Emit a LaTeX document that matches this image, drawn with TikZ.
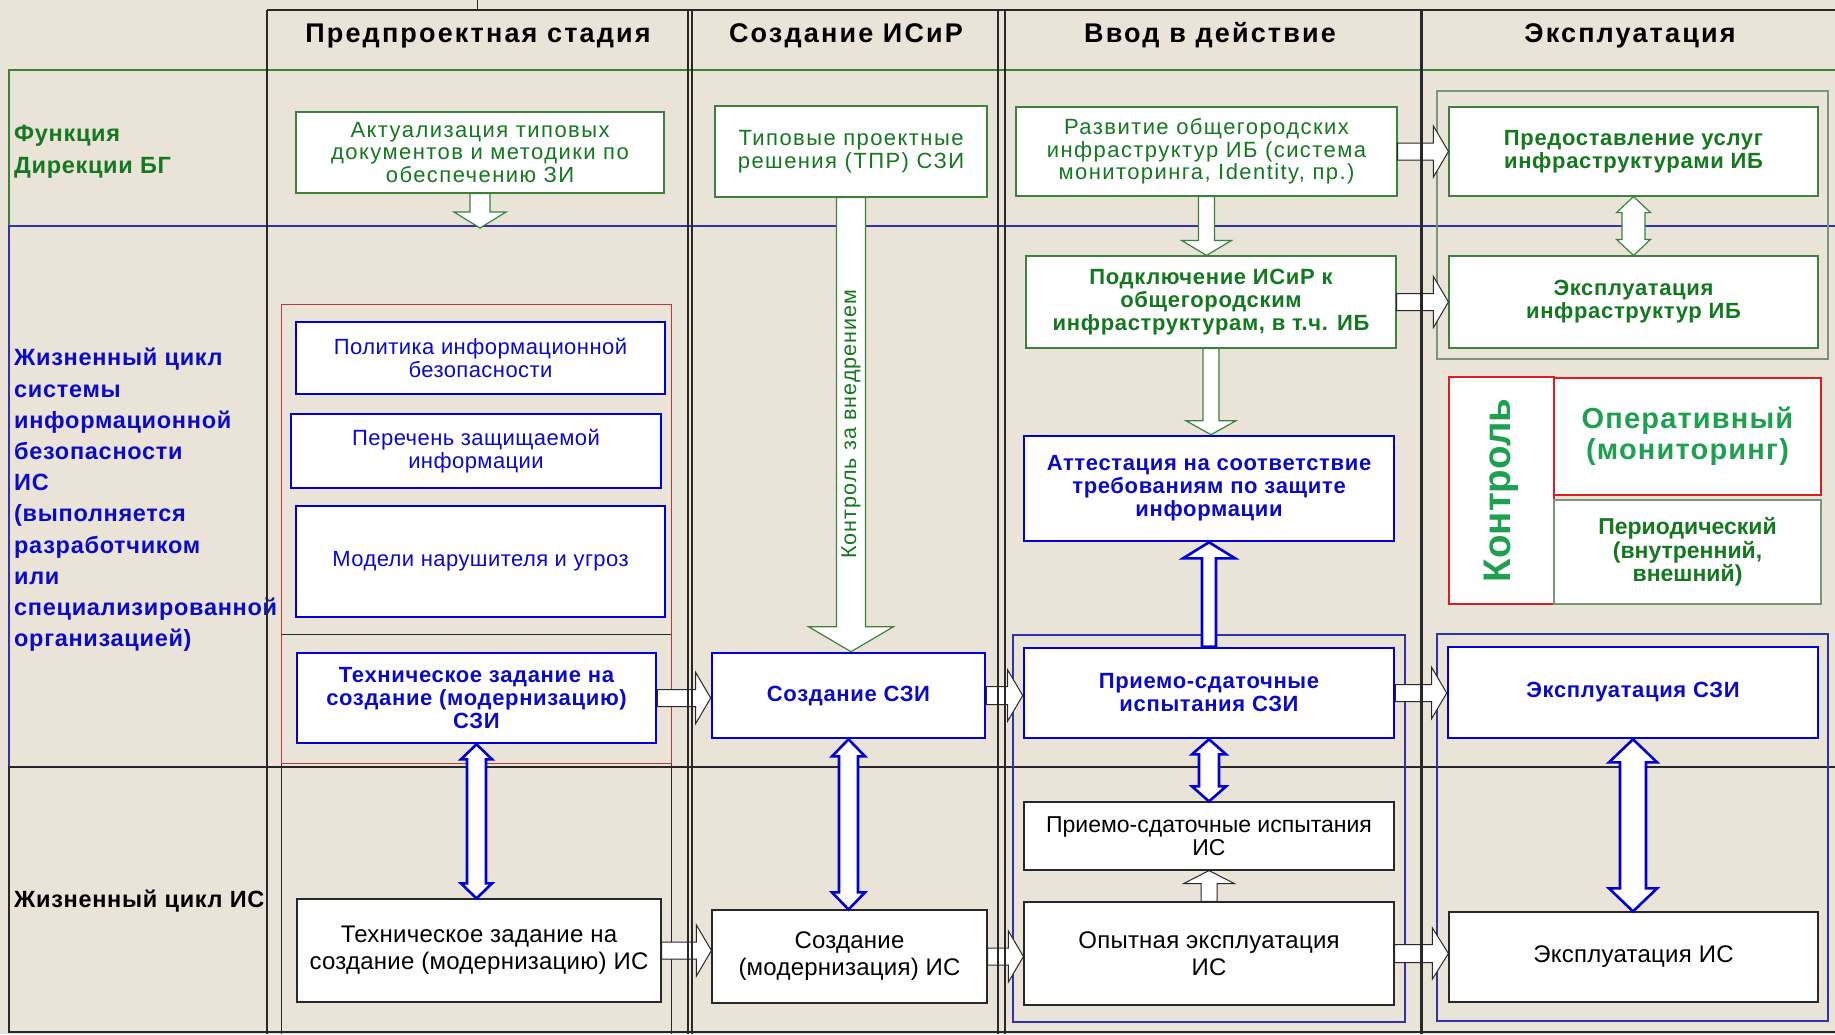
\documentclass[tikz,border=0pt]{standalone}
\usepackage{fontspec}
\setmainfont{Liberation Sans}
\usetikzlibrary{calc}
\definecolor{bg}{RGB}{234,227,215}
\definecolor{gtext}{RGB}{20,120,30}
\definecolor{gline}{RGB}{60,130,60}
\definecolor{gframe}{RGB}{120,150,120}
\definecolor{ktext}{RGB}{30,160,80}
\definecolor{btext}{RGB}{10,10,200}
\definecolor{bline}{RGB}{0,0,210}
\definecolor{bthin}{RGB}{50,50,170}
\definecolor{rline}{RGB}{220,30,30}
\definecolor{rframe}{RGB}{180,60,60}
\definecolor{nline}{RGB}{40,40,40}
\newcommand{\myfs}[2]{\fontsize{#1pt}{#2pt}\selectfont}
\newcommand{\lsp}[1]{\addfontfeatures{LetterSpace=#1}}
\newcommand{\bx}[7]{%
 \pgfmathsetmacro\bxcx{(#2+#4)/2}%
 \pgfmathsetmacro\bxcy{(#3+#5)/2}%
 \pgfmathsetmacro\bxw{#4-#2}%
 \pgfmathsetmacro\bxh{#5-#3}%
 \node[#6, minimum width=\bxw pt, minimum height=\bxh pt] (#1) at (\bxcx,\bxcy) {#7};}
% down arrow: style, from (upper), to (lower), shaft half, head half, head length
\newcommand{\downarr}[6]{\draw[#1] let \p1=(#2), \p2=(#3) in
 (\x1-#4pt,\y1) -- (\x1-#4pt,\y2+#6pt) -- (\x1-#5pt,\y2+#6pt) -- (\x1,\y2) -- (\x1+#5pt,\y2+#6pt) -- (\x1+#4pt,\y2+#6pt) -- (\x1+#4pt,\y1) -- cycle;}
\newcommand{\uparr}[6]{\draw[#1] let \p1=(#2), \p2=(#3) in
 (\x1-#4pt,\y1) -- (\x1-#4pt,\y2-#6pt) -- (\x1-#5pt,\y2-#6pt) -- (\x1,\y2) -- (\x1+#5pt,\y2-#6pt) -- (\x1+#4pt,\y2-#6pt) -- (\x1+#4pt,\y1) -- cycle;}
\newcommand{\dblarr}[6]{\draw[#1] let \p1=(#2), \p2=(#3) in
 (\x1,\y1) -- (\x1+#5pt,\y1-#6pt) -- (\x1+#4pt,\y1-#6pt) -- (\x1+#4pt,\y2+#6pt) -- (\x1+#5pt,\y2+#6pt) -- (\x1,\y2) -- (\x1-#5pt,\y2+#6pt) -- (\x1-#4pt,\y2+#6pt) -- (\x1-#4pt,\y1-#6pt) -- (\x1-#5pt,\y1-#6pt) -- cycle;}
\newcommand{\rarr}[6]{\draw[#1] let \p1=(#2), \p2=(#3) in
 (\x1,\y1+#4pt) -- (\x2-#6pt,\y1+#4pt) -- (\x2-#6pt,\y1+#5pt) -- (\x2,\y1) -- (\x2-#6pt,\y1-#5pt) -- (\x2-#6pt,\y1-#4pt) -- (\x1,\y1-#4pt) -- cycle;}
\tikzset{
 gbox/.style={draw=gline, line width=1.2pt, fill=white, text=gtext, align=center, inner sep=0pt, font=\myfs{22}{22.5}\lsp{6.5}},
 gboxb/.style={gbox, font=\myfs{22}{23}\bfseries\lsp{3}},
 bbox/.style={draw=bline, line width=2.6pt, fill=white, text=btext, align=center, inner sep=0pt, font=\myfs{22}{23}\lsp{2}},
 bboxb/.style={bbox, font=\myfs{22}{23}\bfseries\lsp{3}},
 kbox/.style={draw=nline, line width=1.2pt, fill=white, text=black, align=center, inner sep=0pt, font=\myfs{24}{27}\lsp{1}},
 hdr/.style={anchor=base, font=\myfs{27}{28}\bfseries\lsp{8}, text=black},
 lbl/.style={anchor=west, align=left, inner sep=0pt, font=\myfs{23.5}{31.2}\bfseries\lsp{3}},
 garr/.style={draw=gline, line width=1.2pt, fill=white},
 karr/.style={draw=nline, line width=1pt, fill=white},
 barr/.style={draw=bline, line width=2.6pt, fill=white},
 colline/.style={draw=nline, line width=1.3pt},
}
\begin{document}
\begin{tikzpicture}[x=1pt,y=-1pt]
\fill[bg] (0,0) rectangle (1835,1034);
\useasboundingbox (0,0) rectangle (1835,1034);
% horizontal structure lines
\draw[nline, line width=1.3pt] (267,10) -- (1835,10);
\draw[nline, line width=1pt] (477,0) -- (477,10);
\draw[gline, line width=1.3pt] (1835,70) -- (9,70) -- (9,226);
\draw[bthin, line width=1.3pt] (1835,226) -- (9,226) -- (9,767);
\draw[nline, line width=1.3pt] (1835,767) -- (9,767) -- (9,1032) -- (1835,1032);
\draw[nline, line width=1pt] (281,1034) -- (281,634) -- (671,634) -- (671,1034);
% frames
\draw[gframe, line width=1.5pt] (1437,91) rectangle (1828,359);
\draw[rframe, line width=1pt] (281,304) rectangle (671,763);
\draw[bthin, line width=1.2pt] (1013,635) rectangle (1405,1022);
\draw[bthin, line width=1.2pt] (1437,634) rectangle (1828,1021);
% headers
\node[hdr] (h1) at (478,42) {Предпроектная стадия};
\node[hdr] (h2) at (846,42) {Создание ИСиР};
\node[hdr] (h3) at (1210,42) {Ввод в действие};
\node[hdr] (h4) at (1630,42) {Эксплуатация};
% row labels
\node[lbl, text=gtext, font=\myfs{23.5}{32}\bfseries\lsp{3}] (l1) at (14,151.5) {Функция\\Дирекции БГ};
\node[lbl, text=btext] (l2) at (14,500) {Жизненный цикл\\системы\\информационной\\безопасности\\ИС\\(выполняется\\разработчиком\\или\\специализированной\\организацией)};
\node[lbl, text=black] (l3) at (14,901) {Жизненный цикл ИС};
% row 1 boxes
\bx{akt}{296}{112}{664}{193}{gbox}{Актуализация типовых\\документов и методики по\\обеспечению ЗИ}
\bx{tpr}{715}{106}{987}{197}{gbox}{Типовые проектные\\решения (ТПР) СЗИ}
\bx{razv}{1016}{107}{1397}{196}{gbox}{Развитие общегородских\\инфраструктур ИБ (система\\мониторинга, Identity, пр.)}
\bx{pred}{1449}{107}{1818}{196}{gboxb}{Предоставление услуг\\инфраструктурами ИБ}
\bx{podkl}{1026}{256}{1396}{348}{gboxb}{Подключение ИСиР к\\общегородским\\инфраструктурам, в т.ч. ИБ}
\bx{eksinf}{1449}{256}{1818}{348}{gboxb}{Эксплуатация\\инфраструктур ИБ}
% control block
\bx{kontr}{1449}{377}{1554}{604}{draw=rline, line width=1.3pt, fill=white, inner sep=0pt}{}
\node[rotate=90, text=ktext, font=\myfs{38.5}{40}\bfseries, inner sep=0pt] (kontrtxt) at (kontr.center) {Контроль};
\bx{period}{1554}{500}{1821}{604}{draw=gframe, line width=1.3pt, fill=white, text=gtext, align=center, inner sep=0pt, font=\myfs{23}{23.5}\bfseries}{Периодический\\(внутренний,\\внешний)}
\bx{oper}{1554}{378}{1821}{495}{draw=rline, line width=1.3pt, fill=white, text=ktext, align=center, inner sep=0pt, font=\myfs{29}{31}\bfseries\lsp{4}}{Оперативный\\(мониторинг)}
% row 2 boxes
\bx{pol}{296}{322}{665}{394}{bbox}{Политика информационной\\безопасности}
\bx{per}{291}{414}{661}{488}{bbox}{Перечень защищаемой\\информации}
\bx{mod}{296}{506}{665}{617}{bbox}{Модели нарушителя и угроз}
\bx{tzszi}{297}{653}{656}{743}{bboxb}{Техническое задание на\\создание (модернизацию)\\СЗИ}
\bx{sszi}{712}{653}{985}{738}{bboxb}{Создание СЗИ}
\bx{att}{1024}{436}{1394}{541}{bboxb}{Аттестация на соответствие\\требованиям по защите\\информации}
\bx{pszi}{1024}{648}{1394}{738}{bboxb}{Приемо-сдаточные\\испытания СЗИ}
\bx{eszi}{1448}{647}{1818}{738}{bboxb}{Эксплуатация СЗИ}
% row 3 boxes
\bx{tzis}{297}{899}{661}{1002}{kbox}{Техническое задание на\\создание (модернизацию) ИС}
\bx{sis}{712}{910}{987}{1003}{kbox}{Создание\\(модернизация) ИС}
\bx{psiis}{1024}{802}{1394}{870}{kbox, font=\myfs{23}{23}}{Приемо-сдаточные испытания\\ИС}
\bx{opyt}{1024}{902}{1394}{1005}{kbox}{Опытная эксплуатация\\ИС}
\bx{eis}{1449}{912}{1818}{1002}{kbox}{Эксплуатация ИС}
% arrows
\coordinate (aktend) at (479,228);
\downarr{garr}{akt.south}{aktend}{10}{26}{16}
\downarr{garr}{tpr.south}{sszi.north}{14.5}{42.5}{25}
\node[rotate=90, text=gtext, font=\myfs{21.5}{22}\lsp{5}, inner sep=0pt] (kzv) at (851,424) {Контроль за внедрением};
\downarr{garr}{razv.south}{podkl.north}{8}{25}{15}
\downarr{garr}{podkl.south}{att.north}{8}{25}{14}
\dblarr{garr}{pred.south}{eksinf.north}{11.5}{17}{16}
\rarr{karr}{razv.east}{pred.west}{8.5}{25.5}{15}
\rarr{karr}{podkl.east}{eksinf.west}{8.5}{25.5}{15}
\rarr{karr}{tzszi.east}{sszi.west}{8.5}{25.5}{15}
\rarr{karr}{sszi.east}{pszi.west}{9}{25.5}{15}
\rarr{karr}{pszi.east}{eszi.west}{8.5}{25.5}{15}
\uparr{barr}{pszi.north}{att.south}{7}{26}{16}
\dblarr{barr}{tzszi.south}{tzis.north}{9.5}{15.5}{15}
\dblarr{barr}{sszi.south}{sis.north}{9.5}{16.5}{17}
\dblarr{barr}{pszi.south}{psiis.north}{10}{17}{15}
\dblarr{barr}{eszi.south}{eis.north}{13}{24}{23}
\uparr{karr}{opyt.north}{psiis.south}{8}{25.5}{13}
\rarr{karr}{tzis.east}{sis.west}{8.5}{25.5}{15}
\rarr{karr}{sis.east}{opyt.west}{8.5}{25.5}{15}
\rarr{karr}{opyt.east}{eis.west}{9}{25.5}{16}
% column lines on top
\draw[colline] (267,10) -- (267,1034);
\draw[colline] (688,10) -- (688,1034);
\draw[colline] (692,10) -- (692,1034);
\draw[colline] (998,10) -- (998,1034);
\draw[colline] (1005,10) -- (1005,1034);
\draw[nline, line width=3pt] (1421,10) -- (1421,1034);
\end{tikzpicture}
\end{document}
